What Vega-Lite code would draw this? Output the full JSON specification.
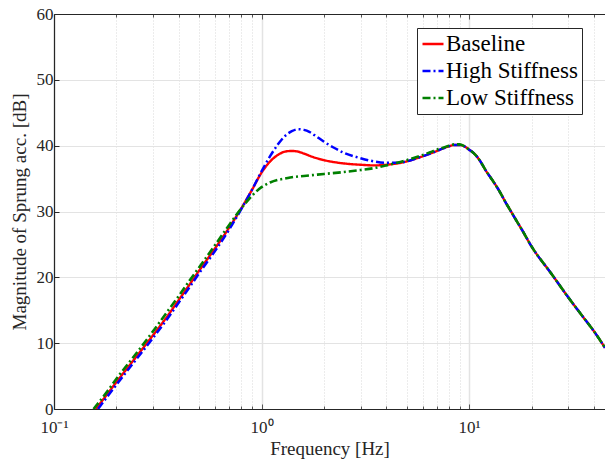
{
  "$schema": "https://vega.github.io/schema/vega-lite/v6.json",
  "width": 551,
  "height": 395,
  "autosize": {"type": "none"},
  "padding": {"left": 54, "top": 14, "right": 0, "bottom": 52},
  "background": "white",
  "data": {"values": [
    {"f":0.159,"db":0,"s":"Baseline"},{"f":0.18,"db":2.2,"s":"Baseline"},{"f":0.2,"db":4.1,"s":"Baseline"},{"f":0.25,"db":8.0,"s":"Baseline"},{"f":0.3,"db":11.2,"s":"Baseline"},{"f":0.35,"db":14.0,"s":"Baseline"},{"f":0.4,"db":16.6,"s":"Baseline"},{"f":0.45,"db":18.9,"s":"Baseline"},{"f":0.5,"db":21.0,"s":"Baseline"},{"f":0.6,"db":24.5,"s":"Baseline"},{"f":0.7,"db":27.6,"s":"Baseline"},{"f":0.8,"db":30.5,"s":"Baseline"},{"f":0.9,"db":33.3,"s":"Baseline"},{"f":1.0,"db":35.9,"s":"Baseline"},{"f":1.1,"db":37.6,"s":"Baseline"},{"f":1.2,"db":38.6,"s":"Baseline"},{"f":1.3,"db":39.1,"s":"Baseline"},{"f":1.4,"db":39.2,"s":"Baseline"},{"f":1.5,"db":39.1,"s":"Baseline"},{"f":1.6,"db":38.8,"s":"Baseline"},{"f":1.8,"db":38.2,"s":"Baseline"},{"f":2.0,"db":37.8,"s":"Baseline"},{"f":2.5,"db":37.3,"s":"Baseline"},{"f":3.0,"db":37.1,"s":"Baseline"},{"f":3.5,"db":37.0,"s":"Baseline"},{"f":4.0,"db":37.1,"s":"Baseline"},{"f":4.5,"db":37.3,"s":"Baseline"},{"f":5.0,"db":37.6,"s":"Baseline"},
    {"f":5.5,"db":38.0,"s":"Baseline"},{"f":6.0,"db":38.4,"s":"Baseline"},{"f":6.5,"db":38.8,"s":"Baseline"},{"f":7.0,"db":39.2,"s":"Baseline"},{"f":7.5,"db":39.6,"s":"Baseline"},{"f":8.0,"db":39.9,"s":"Baseline"},{"f":8.5,"db":40.1,"s":"Baseline"},{"f":9.0,"db":40.1,"s":"Baseline"},{"f":9.5,"db":39.9,"s":"Baseline"},{"f":10,"db":39.4,"s":"Baseline"},{"f":10.5,"db":38.9,"s":"Baseline"},{"f":11,"db":38.2,"s":"Baseline"},{"f":11.5,"db":37.3,"s":"Baseline"},{"f":12,"db":36.3,"s":"Baseline"},{"f":13,"db":34.7,"s":"Baseline"},{"f":14,"db":33.1,"s":"Baseline"},{"f":15,"db":31.4,"s":"Baseline"},{"f":16,"db":29.9,"s":"Baseline"},{"f":17,"db":28.5,"s":"Baseline"},{"f":18,"db":27.2,"s":"Baseline"},{"f":20,"db":24.7,"s":"Baseline"},{"f":25,"db":20.5,"s":"Baseline"},{"f":30,"db":17.0,"s":"Baseline"},{"f":35,"db":14.2,"s":"Baseline"},{"f":40,"db":11.8,"s":"Baseline"},{"f":45.2,"db":9.3,"s":"Baseline"},
    {"f":0.163,"db":0,"s":"High Stiffness"},{"f":0.18,"db":1.8,"s":"High Stiffness"},{"f":0.2,"db":3.7,"s":"High Stiffness"},{"f":0.25,"db":7.6,"s":"High Stiffness"},{"f":0.3,"db":10.8,"s":"High Stiffness"},{"f":0.35,"db":13.6,"s":"High Stiffness"},{"f":0.4,"db":16.2,"s":"High Stiffness"},{"f":0.45,"db":18.5,"s":"High Stiffness"},{"f":0.5,"db":20.6,"s":"High Stiffness"},{"f":0.6,"db":24.1,"s":"High Stiffness"},{"f":0.7,"db":27.3,"s":"High Stiffness"},{"f":0.8,"db":30.4,"s":"High Stiffness"},{"f":0.9,"db":33.3,"s":"High Stiffness"},{"f":1.0,"db":36.1,"s":"High Stiffness"},{"f":1.1,"db":38.4,"s":"High Stiffness"},{"f":1.2,"db":40.2,"s":"High Stiffness"},{"f":1.3,"db":41.5,"s":"High Stiffness"},{"f":1.4,"db":42.2,"s":"High Stiffness"},{"f":1.5,"db":42.5,"s":"High Stiffness"},{"f":1.6,"db":42.4,"s":"High Stiffness"},{"f":1.7,"db":42.1,"s":"High Stiffness"},{"f":1.8,"db":41.6,"s":"High Stiffness"},{"f":2.0,"db":40.6,"s":"High Stiffness"},{"f":2.2,"db":39.8,"s":"High Stiffness"},{"f":2.5,"db":38.9,"s":"High Stiffness"},{"f":3.0,"db":38.1,"s":"High Stiffness"},{"f":3.5,"db":37.6,"s":"High Stiffness"},{"f":4.0,"db":37.4,"s":"High Stiffness"},{"f":4.5,"db":37.4,"s":"High Stiffness"},{"f":5.0,"db":37.6,"s":"High Stiffness"},
    {"f":5.5,"db":38.0,"s":"High Stiffness"},{"f":6.0,"db":38.4,"s":"High Stiffness"},{"f":6.5,"db":38.8,"s":"High Stiffness"},{"f":7.0,"db":39.2,"s":"High Stiffness"},{"f":7.5,"db":39.6,"s":"High Stiffness"},{"f":8.0,"db":39.9,"s":"High Stiffness"},{"f":8.5,"db":40.1,"s":"High Stiffness"},{"f":9.0,"db":40.1,"s":"High Stiffness"},{"f":9.5,"db":39.9,"s":"High Stiffness"},{"f":10,"db":39.4,"s":"High Stiffness"},{"f":10.5,"db":38.9,"s":"High Stiffness"},{"f":11,"db":38.2,"s":"High Stiffness"},{"f":11.5,"db":37.3,"s":"High Stiffness"},{"f":12,"db":36.3,"s":"High Stiffness"},{"f":13,"db":34.7,"s":"High Stiffness"},{"f":14,"db":33.1,"s":"High Stiffness"},{"f":15,"db":31.4,"s":"High Stiffness"},{"f":16,"db":29.9,"s":"High Stiffness"},{"f":17,"db":28.5,"s":"High Stiffness"},{"f":18,"db":27.2,"s":"High Stiffness"},{"f":20,"db":24.7,"s":"High Stiffness"},{"f":25,"db":20.5,"s":"High Stiffness"},{"f":30,"db":17.0,"s":"High Stiffness"},{"f":35,"db":14.2,"s":"High Stiffness"},{"f":40,"db":11.8,"s":"High Stiffness"},{"f":45.2,"db":9.3,"s":"High Stiffness"},
    {"f":0.155,"db":0,"s":"Low Stiffness"},{"f":0.18,"db":2.6,"s":"Low Stiffness"},{"f":0.2,"db":4.6,"s":"Low Stiffness"},{"f":0.25,"db":8.5,"s":"Low Stiffness"},{"f":0.3,"db":11.8,"s":"Low Stiffness"},{"f":0.35,"db":14.7,"s":"Low Stiffness"},{"f":0.4,"db":17.2,"s":"Low Stiffness"},{"f":0.45,"db":19.5,"s":"Low Stiffness"},{"f":0.5,"db":21.5,"s":"Low Stiffness"},{"f":0.6,"db":25.0,"s":"Low Stiffness"},{"f":0.7,"db":28.0,"s":"Low Stiffness"},{"f":0.8,"db":30.5,"s":"Low Stiffness"},{"f":0.9,"db":32.4,"s":"Low Stiffness"},{"f":1.0,"db":33.7,"s":"Low Stiffness"},{"f":1.1,"db":34.4,"s":"Low Stiffness"},{"f":1.2,"db":34.8,"s":"Low Stiffness"},{"f":1.3,"db":35.0,"s":"Low Stiffness"},{"f":1.4,"db":35.2,"s":"Low Stiffness"},{"f":1.6,"db":35.4,"s":"Low Stiffness"},{"f":2.0,"db":35.7,"s":"Low Stiffness"},{"f":2.5,"db":36.0,"s":"Low Stiffness"},{"f":3.0,"db":36.3,"s":"Low Stiffness"},{"f":3.5,"db":36.6,"s":"Low Stiffness"},{"f":4.0,"db":37.0,"s":"Low Stiffness"},{"f":4.5,"db":37.4,"s":"Low Stiffness"},{"f":5.0,"db":37.8,"s":"Low Stiffness"},
    {"f":5.5,"db":38.2,"s":"Low Stiffness"},{"f":6.0,"db":38.6,"s":"Low Stiffness"},{"f":6.5,"db":39.0,"s":"Low Stiffness"},{"f":7.0,"db":39.4,"s":"Low Stiffness"},{"f":7.5,"db":39.7,"s":"Low Stiffness"},{"f":8.0,"db":40.0,"s":"Low Stiffness"},{"f":8.5,"db":40.2,"s":"Low Stiffness"},{"f":9.0,"db":40.2,"s":"Low Stiffness"},{"f":9.5,"db":39.9,"s":"Low Stiffness"},{"f":10,"db":39.4,"s":"Low Stiffness"},{"f":10.5,"db":38.9,"s":"Low Stiffness"},{"f":11,"db":38.2,"s":"Low Stiffness"},{"f":11.5,"db":37.3,"s":"Low Stiffness"},{"f":12,"db":36.3,"s":"Low Stiffness"},{"f":13,"db":34.7,"s":"Low Stiffness"},{"f":14,"db":33.1,"s":"Low Stiffness"},{"f":15,"db":31.4,"s":"Low Stiffness"},{"f":16,"db":29.9,"s":"Low Stiffness"},{"f":17,"db":28.5,"s":"Low Stiffness"},{"f":18,"db":27.2,"s":"Low Stiffness"},{"f":20,"db":24.7,"s":"Low Stiffness"},{"f":25,"db":20.5,"s":"Low Stiffness"},{"f":30,"db":17.0,"s":"Low Stiffness"},{"f":35,"db":14.2,"s":"Low Stiffness"},{"f":40,"db":11.8,"s":"Low Stiffness"},{"f":45.2,"db":9.3,"s":"Low Stiffness"}
  ]},
  "layer": [
    {
      "mark": {"type": "line", "clip": true, "interpolate": "monotone"},
      "encoding": {
        "x": {"field": "f", "type": "quantitative",
          "scale": {"type": "log", "domain": [0.1, 45.2], "nice": false},
          "axis": {
            "orient": "bottom",
            "title": "Frequency [Hz]", "titleFontSize": 19, "titlePadding": 2,
            "values": [0.1,0.2,0.3,0.4,0.5,0.6,0.7,0.8,0.9,1,2,3,4,5,6,7,8,9,10,20,30,40],
            "labelExpr": "datum.value == 0.1 ? '10⁻¹' : datum.value == 1 ? '10⁰' : datum.value == 10 ? '10¹' : ''",
            "labelOverlap": false, "labelFontSize": 17, "labelPadding": 15, "labelFlush": false,
            "grid": true,
            "gridColor": {"condition": {"test": "datum.value == 0.1 || datum.value == 1 || datum.value == 10", "value": "#e3e3e3"}, "value": "#d8d8d8"},
            "gridDash": {"condition": {"test": "datum.value == 0.1 || datum.value == 1 || datum.value == 10", "value": []}, "value": [1, 2]},
            "gridWidth": {"condition": {"test": "datum.value == 0.1 || datum.value == 1 || datum.value == 10", "value": 1.5}, "value": 1},
            "tickSize": {"condition": {"test": "datum.value == 0.1 || datum.value == 1 || datum.value == 10", "value": -5}, "value": -3},
            "tickColor": "#555555",
            "domainWidth": 1.2
          }
        },
        "y": {"field": "db", "type": "quantitative",
          "scale": {"domain": [0, 60], "nice": false},
          "axis": {
            "title": "Magnitude of  Sprung acc. [dB]", "titleFontSize": 19, "titlePadding": 7,
            "values": [0,10,20,30,40,50,60], "labelFontSize": 17, "labelPadding": 6,
            "grid": true, "gridColor": "#e3e3e3", "gridWidth": 1,
            "tickSize": -5, "domainWidth": 1.2, "labelFlush": false
          }
        },
        "color": {"field": "s", "type": "nominal",
          "scale": {"domain": ["Baseline", "High Stiffness", "Low Stiffness"], "range": ["#ff0000", "#0000ff", "#008000"]},
          "legend": {"title": null}
        },
        "strokeDash": {"field": "s", "type": "nominal",
          "scale": {"domain": ["Baseline", "High Stiffness", "Low Stiffness"], "range": [[1, 0], [8, 3, 2, 3], [8, 3, 2, 3]]},
          "legend": {"title": null}
        },
        "strokeWidth": {"field": "s", "type": "nominal",
          "scale": {"domain": ["Baseline", "High Stiffness", "Low Stiffness"], "range": [2.4, 2.6, 3.2]},
          "legend": {"title": null}
        }
      }
    },
    {
      "mark": {"type": "line", "clip": true, "strokeOpacity": 0},
      "encoding": {
        "x": {"field": "f", "type": "quantitative",
          "axis": {
            "orient": "top", "title": null, "labels": false, "grid": false,
            "values": [0.1,0.2,0.3,0.4,0.5,0.6,0.7,0.8,0.9,1,2,3,4,5,6,7,8,9,10,20,30,40],
            "tickSize": {"condition": {"test": "datum.value == 0.1 || datum.value == 1 || datum.value == 10", "value": -5}, "value": -3},
            "tickColor": "#555555", "domainWidth": 1.2
          }
        },
        "y": {"field": "db", "type": "quantitative"}
      }
    }
  ],
  "resolve": {"axis": {"x": "independent"}},
  "config": {
    "view": {"stroke": null},
    "font": "Liberation Serif",
    "axis": {"labelFont": "Liberation Serif", "titleFont": "Liberation Serif", "labelColor": "#262626", "titleColor": "#262626", "domainColor": "#262626", "tickColor": "#262626", "titleFontWeight": "normal"},
    "legend": {
      "orient": "none", "legendX": 363, "legendY": 14,
      "strokeColor": "#262626", "fillColor": "white", "padding": 4, "cornerRadius": 0,
      "labelFont": "Liberation Serif", "labelFontSize": 23, "labelColor": "black", "labelOffset": 1, "labelLimit": 300,
      "symbolType": "stroke", "symbolSize": 441, "rowPadding": 3
    }
  }
}
